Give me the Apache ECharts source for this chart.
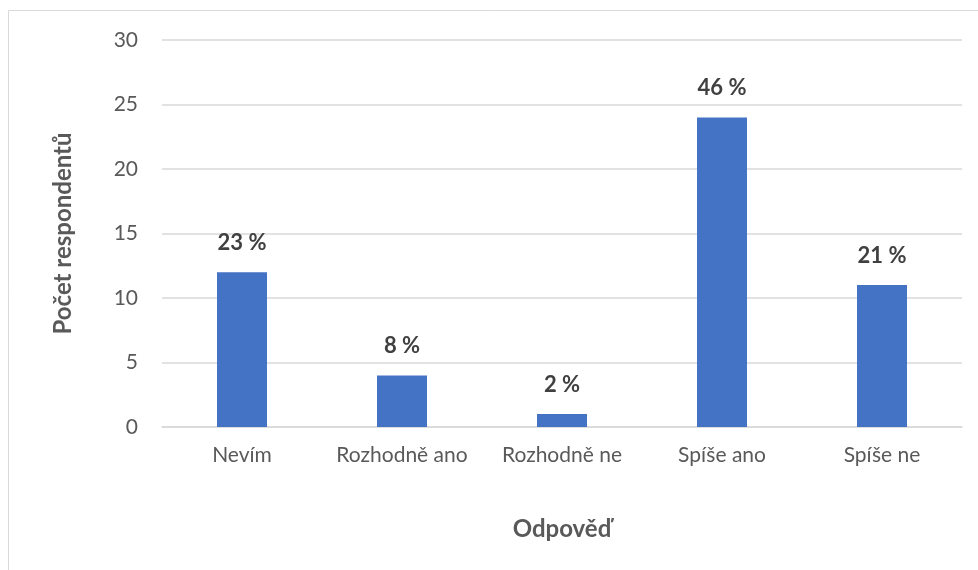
<!DOCTYPE html>
<html>
<head>
<meta charset="utf-8">
<script src="https://cdn.jsdelivr.net/npm/echarts@6/dist/echarts.min.js"></script>
<style>
  html, body { margin: 0; padding: 0; background: #fff; }
  #chart { width: 978px; height: 570px; }
</style>
</head>
<body>
<div id="chart"></div>
<script>
// Survey answers and number of respondents per answer
const categories = ['Nevím', 'Rozhodně ano', 'Rozhodně ne', 'Spíše ano', 'Spíše ne'];
const counts = [12, 4, 1, 24, 11];
const yTicks = { min: 0, max: 30, interval: 5 };

const total = counts.reduce((a, b) => a + b, 0);
const FONT = 'Lato, "Noto Sans", sans-serif';

const chart = echarts.init(document.getElementById('chart'), null, { renderer: 'canvas' });
chart.setOption({
  animation: false,
  backgroundColor: '#ffffff',
  graphic: [{
    type: 'rect',
    shape: { x: 8.5, y: 10.5, width: 1000, height: 600 },
    style: { fill: 'none', stroke: '#d9d9d9', lineWidth: 1 },
    silent: true
  }],
  grid: { left: 162, right: 16, top: 40, bottom: 143 },
  xAxis: {
    type: 'category',
    data: categories,
    name: 'Odpověď',
    nameLocation: 'middle',
    nameGap: 90,
    nameTextStyle: { fontFamily: FONT, fontSize: 24, fontWeight: 'bold', color: '#595959' },
    axisLine: { lineStyle: { color: '#d9d9d9', width: 1.5 } },
    axisTick: { show: false },
    axisLabel: { fontFamily: FONT, fontSize: 21, color: '#595959', margin: 18, interval: 0 }
  },
  yAxis: {
    type: 'value',
    min: yTicks.min,
    max: yTicks.max,
    interval: yTicks.interval,
    name: 'Počet respondentů',
    nameLocation: 'middle',
    nameGap: 87,
    nameTextStyle: { fontFamily: FONT, fontSize: 24, fontWeight: 'bold', color: '#595959' },
    axisLine: { show: false },
    axisTick: { show: false },
    splitLine: { lineStyle: { color: '#d9d9d9', width: 1.5 } },
    axisLabel: { fontFamily: FONT, fontSize: 21, color: '#595959', margin: 24 }
  },
  series: [{
    type: 'bar',
    data: counts,
    barWidth: 50,
    itemStyle: { color: '#4472c4' },
    label: {
      show: true,
      position: 'top',
      distance: 18,
      fontFamily: FONT,
      fontSize: 22,
      fontWeight: 'bold',
      color: '#404040',
      formatter: p => Math.round(p.value / total * 100) + ' %'
    }
  }]
});
</script>
</body>
</html>
